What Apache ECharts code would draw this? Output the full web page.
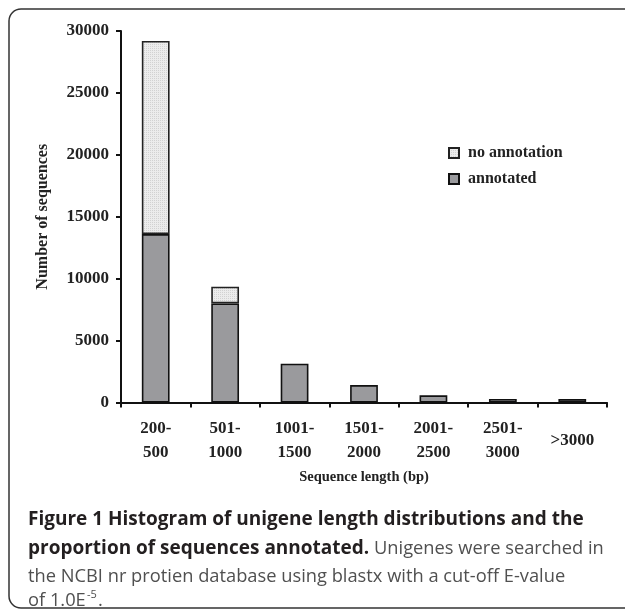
<!DOCTYPE html>
<html><head><meta charset="utf-8">
<script src="https://cdn.jsdelivr.net/npm/echarts@6/dist/echarts.min.js"></script>
<style>html,body{margin:0;padding:0;background:#fff}#c{width:625px;height:610px}</style>
</head><body><div id="c"></div>
<script>
const categories = ['200-\n500','501-\n1000','1001-\n1500','1501-\n2000','2001-\n2500','2501-\n3000','>3000'];
const annotated = [13600, 8000, 3130, 1410, 580, 290, 280];
const noAnnotation = [15600, 1350, 0, 0, 0, 0, 0];
const yTicks = [0, 5000, 10000, 15000, 20000, 25000, 30000];

// light stippled pattern
const pc = document.createElement('canvas'); pc.width = 4; pc.height = 4;
const px = pc.getContext('2d');
px.fillStyle = '#ececec'; px.fillRect(0,0,4,4);
px.fillStyle = '#d2d2d2';
px.fillRect(0,0,1,1); px.fillRect(2,2,1,1); px.fillRect(2,0,1,1); px.fillRect(0,2,1,1);
const lightPattern = { image: pc, repeat: 'repeat' };

const serif = '"Liberation Serif", "Times New Roman", serif';
const sans = '"Open Sans", "Noto Sans", sans-serif';
const chart = echarts.init(document.getElementById('c'), null, {renderer: 'canvas'});
chart.setOption({
  animation: false,
  backgroundColor: '#fff',
  grid: {left: 121, right: 18, top: 31, bottom: 207.5, containLabel: false},
  legend: {
    data: ['no annotation', 'annotated'],
    orient: 'vertical', left: 443, top: 140,
    itemWidth: 10, itemHeight: 10, itemGap: 10,
    icon: 'rect',
    textStyle: {fontFamily: serif, fontWeight: 'bold', fontSize: 16, color: '#222', padding: [0,0,0,4]}
  },
  xAxis: {
    type: 'category', data: categories,
    axisLine: {lineStyle: {color: '#111', width: 2}},
    axisTick: {show: true, length: 5, lineStyle: {color: '#111', width: 2}},
    axisLabel: {fontFamily: serif, fontWeight: 'bold', fontSize: 17, color: '#222', margin: 38, verticalAlign: 'middle', lineHeight: 24, interval: 0},
    name: 'Sequence length (bp)', nameLocation: 'middle', nameGap: 72,
    nameTextStyle: {fontFamily: serif, fontWeight: 'bold', fontSize: 14.5, color: '#222', verticalAlign: 'middle'}
  },
  yAxis: {
    type: 'value', min: 0, max: 30000, interval: 5000,
    axisLine: {show: true, lineStyle: {color: '#111', width: 2}},
    axisTick: {show: true, length: 5, lineStyle: {color: '#111', width: 2}},
    splitLine: {show: false},
    axisLabel: {fontFamily: serif, fontWeight: 'bold', fontSize: 17, color: '#222', margin: 12,
      formatter: v => yTicks.includes(v) ? String(v) : ''},
    name: 'Number of sequences', nameLocation: 'middle', nameGap: 78, nameRotate: 90,
    nameTextStyle: {fontFamily: serif, fontWeight: 'bold', fontSize: 16, color: '#222', verticalAlign: 'middle'}
  },
  series: [
    {name: 'annotated', type: 'bar', stack: 't', data: annotated, barWidth: '40%',
     itemStyle: {color: '#9a9a9d', borderColor: '#111', borderWidth: 1.6}},
    {name: 'no annotation', type: 'bar', stack: 't', data: noAnnotation.map(v => v > 0 ? v : '-'), barWidth: '40%',
     itemStyle: {color: lightPattern, borderColor: '#222', borderWidth: 1.6}}
  ],
  graphic: [
    {type: 'rect', shape: {x: 9, y: 9, width: 700, height: 599, r: 12}, z: -1,
     style: {fill: 'none', stroke: '#333', lineWidth: 1.5}},
    {type: 'text', left: 28, top: 510, style: {
      text: 'Figure 1 Histogram of unigene length distributions and the',
      fontFamily: sans, fontWeight: 'bold', fontSize: 19, fill: '#231f20'}},
    {type: 'text', left: 28, top: 539, style: {
      text: '{b|proportion of sequences annotated.}{r| Unigenes were searched in}',
      rich: {
        b: {fontFamily: sans, fontWeight: 'bold', fontSize: 19, fill: '#231f20'},
        r: {fontFamily: sans, fontSize: 18.3, fill: '#505050'}
      }}},
    {type: 'text', left: 28, top: 568, style: {
      text: 'the NCBI nr protien database using blastx with a cut-off E-value',
      fontFamily: sans, fontSize: 18.3, fill: '#505050'}},
    {type: 'text', left: 28, top: 592, style: {
      text: 'of 1.0E',
      fontFamily: sans, fontSize: 18.3, fill: '#505050'}},
    {type: 'text', left: 87, top: 589, style: {
      text: '-5',
      fontFamily: sans, fontSize: 11, fill: '#505050'}},
    {type: 'text', left: 98, top: 592, style: {
      text: '.',
      fontFamily: sans, fontSize: 18.3, fill: '#505050'}}
  ]
});
</script></body></html>
